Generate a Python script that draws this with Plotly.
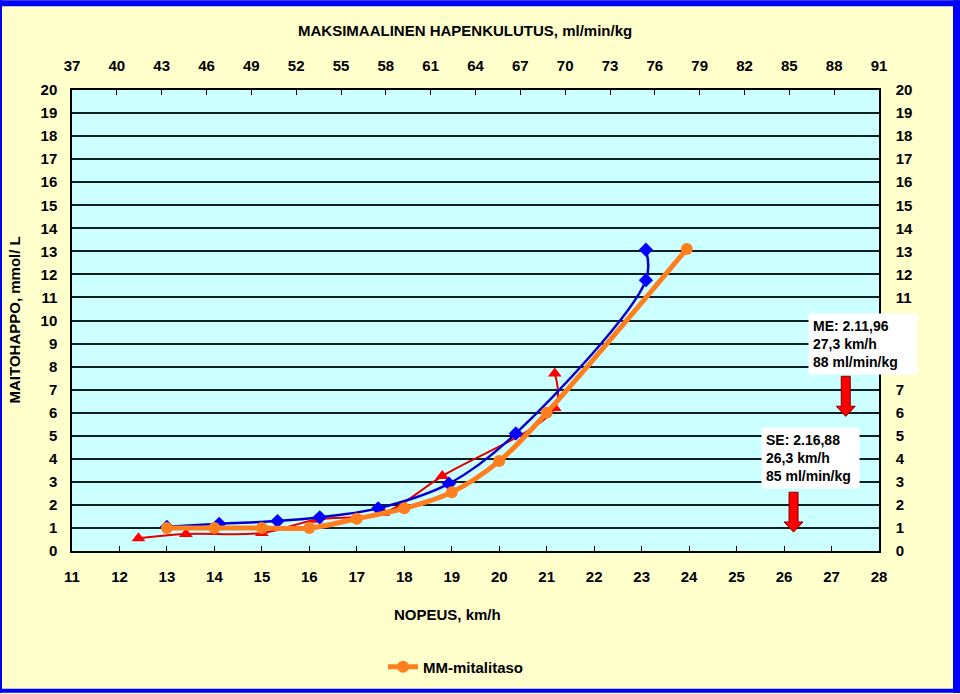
import plotly.graph_objects as go

# ── Data ────────────────────────────────────────────────────────────────────
speed_mm = [13, 14, 15, 16, 17, 18, 19, 20, 21, 23.95]
lactate_mm = [1.0, 1.0, 1.0, 1.0, 1.4, 1.85, 2.55, 3.9, 6.0, 13.1]

speed_blue = [13, 14.1, 15.33, 16.22, 17.45, 18.94, 20.35, 23.09, 23.09]
lactate_blue = [1.05, 1.18, 1.3, 1.46, 1.85, 2.92, 5.1, 11.75, 13.07]

speed_red = [12.4, 13.4, 15.0, 16.14, 17.56, 18.8, 21.17, 21.17]
lactate_red = [0.55, 0.74, 0.78, 1.36, 1.66, 3.25, 6.2, 7.7]

vo2_range = [37, 91]
speed_range = [11, 28]
lactate_range = [0, 20]
# right-hand labels 8..10 sit behind the ME text box in the reference
right_ticks = [0, 1, 2, 3, 4, 5, 6, 7, 11, 12, 13, 14, 15, 16, 17, 18, 19, 20]

# ── Theme ───────────────────────────────────────────────────────────────────
FONT = "Liberation Sans"
CREAM = "#FFFFCC"
CYAN = "#CCFFFF"
BLUE_FRAME = "#0000FF"
ORANGE = "#FF7F1F"
BLUE = "#0000CC"
RED = "#E00000"

tickfont = dict(family=FONT, size=15, color="black", weight="bold")

fig = go.Figure()

fig.add_trace(go.Scatter(
    x=speed_red, y=lactate_red, mode="lines+markers", name="red",
    line=dict(color=RED, width=2, shape="spline"),
    marker=dict(symbol="triangle-up", size=12, color="#FF0000"),
    showlegend=False, hoverinfo="skip",
))
fig.add_trace(go.Scatter(
    x=speed_blue, y=lactate_blue, mode="lines+markers", name="blue",
    line=dict(color=BLUE, width=2.5, shape="spline"),
    marker=dict(symbol="diamond", size=11, color="#0000FF"),
    showlegend=False, hoverinfo="skip",
))
fig.add_trace(go.Scatter(
    x=speed_mm, y=lactate_mm, mode="lines+markers", name="MM-mitalitaso",
    line=dict(color=ORANGE, width=5, shape="spline"),
    marker=dict(symbol="circle", size=12, color=ORANGE),
    hoverinfo="skip",
))
# empty traces so the top (VO2) and right axes are drawn
fig.add_trace(go.Scatter(
    x=vo2_range, y=[None, None], xaxis="x2", yaxis="y",
    showlegend=False, hoverinfo="skip",
))
fig.add_trace(go.Scatter(
    x=speed_range, y=[None, None], xaxis="x", yaxis="y2",
    showlegend=False, hoverinfo="skip",
))

# ── Red arrows (decoration) ─────────────────────────────────────────────────
def arrow_path(cx, top, head, tip, hw=0.095, hh=0.2):
    return (f"M {cx-hw},{top} L {cx+hw},{top} L {cx+hw},{head} L {cx+hh},{head} "
            f"L {cx},{tip} L {cx-hh},{head} L {cx-hw},{head} Z")

shapes = [
    dict(type="path", xref="x", yref="y", path=arrow_path(27.3, 7.58, 6.28, 5.84),
         fillcolor="#FF0000", line=dict(color="#800000", width=1)),
    dict(type="path", xref="x", yref="y", path=arrow_path(26.2, 2.55, 1.26, 0.82),
         fillcolor="#FF0000", line=dict(color="#800000", width=1)),
]

# blue frame round the picture
W, H = 960, 694
L, R, T, B = 72, 81, 90, 142
pw, ph = W - L - R, H - T - B


def px(x):
    return (x - L) / pw


def py(y):
    return (H - B - y) / ph


for x0, y0, x1, y1 in [(0, 0, W, 6), (0, 690, W, H), (0, 0, 2, H), (953, 0, W, H)]:
    shapes.append(dict(type="rect", xref="paper", yref="paper",
                       x0=px(x0), x1=px(x1), y0=py(y1), y1=py(y0),
                       fillcolor=BLUE_FRAME, line=dict(width=0), layer="above"))

# ── Text ────────────────────────────────────────────────────────────────────
title_font = dict(family=FONT, size=15, color="black", weight="bold")
box_font = dict(family=FONT, size=14, color="black", weight="bold")
annotations = [
    dict(text="MAKSIMAALINEN HAPENKULUTUS, ml/min/kg", x=px(465), y=py(30),
         xanchor="center", yanchor="middle",
         xref="paper", yref="paper", showarrow=False, font=title_font),
    dict(text="NOPEUS, km/h", x=px(447), y=py(616),
         xanchor="center", yanchor="middle",
         xref="paper", yref="paper", showarrow=False, font=title_font),
    dict(text="MAITOHAPPO, mmol/ L", x=px(14), y=py(321), textangle=-90,
         xanchor="center", yanchor="middle",
         xref="paper", yref="paper", showarrow=False, font=title_font),
    dict(text="ME: 2.11,96<br>27,3 km/h<br>88 ml/min/kg", x=px(808), y=py(313),
         xanchor="left", yanchor="top", align="left", width=100,
         xref="paper", yref="paper", showarrow=False, font=box_font,
         bgcolor="white", borderpad=4),
    dict(text="SE: 2.16,88<br>26,3 km/h<br>85 ml/min/kg", x=px(761), y=py(428),
         xanchor="left", yanchor="top", align="left", width=89,
         xref="paper", yref="paper", showarrow=False, font=box_font,
         bgcolor="white", borderpad=4),
]

fig.update_layout(
    width=W, height=H,
    margin=dict(l=L, r=R, t=T, b=B),
    paper_bgcolor=CREAM,
    plot_bgcolor=CYAN,
    font=dict(family=FONT, color="black"),
    xaxis=dict(range=speed_range, tick0=11, dtick=1, ticks="inside", ticklen=5,
               tickcolor="black", showline=True, linecolor="black", linewidth=1.5,
               showgrid=False, zeroline=False, tickfont=tickfont, ticklabelstandoff=11),
    xaxis2=dict(range=vo2_range, tick0=37, dtick=3, ticks="inside", ticklen=5,
                tickcolor="black", showline=True, linecolor="black", linewidth=1.5,
                overlaying="x", side="top", anchor="y",
                showgrid=False, zeroline=False, tickfont=tickfont, ticklabelstandoff=11),
    yaxis=dict(range=lactate_range, tick0=0, dtick=1, ticks="",
               showline=True, linecolor="black", linewidth=1.5,
               showgrid=True, gridcolor="#102020", gridwidth=1.5,
               zeroline=False, tickfont=tickfont, ticklabelstandoff=10),
    yaxis2=dict(range=lactate_range, tickmode="array", tickvals=right_ticks, ticks="",
                overlaying="y", side="right", anchor="x",
                showline=True, linecolor="black", linewidth=1.5,
                showgrid=False, zeroline=False, tickfont=tickfont, ticklabelstandoff=12),
    legend=dict(orientation="h", x=px(383), y=py(667), xanchor="left", yanchor="middle",
                bgcolor="rgba(0,0,0,0)",
                font=dict(family=FONT, size=15, color="black", weight="bold")),
    shapes=shapes,
    annotations=annotations,
)

# the page's default 8px body margin would push the figure off the window
fig.write_html("out.html", config={"displayModeBar": False},
               post_script="document.body.style.margin='0';")
